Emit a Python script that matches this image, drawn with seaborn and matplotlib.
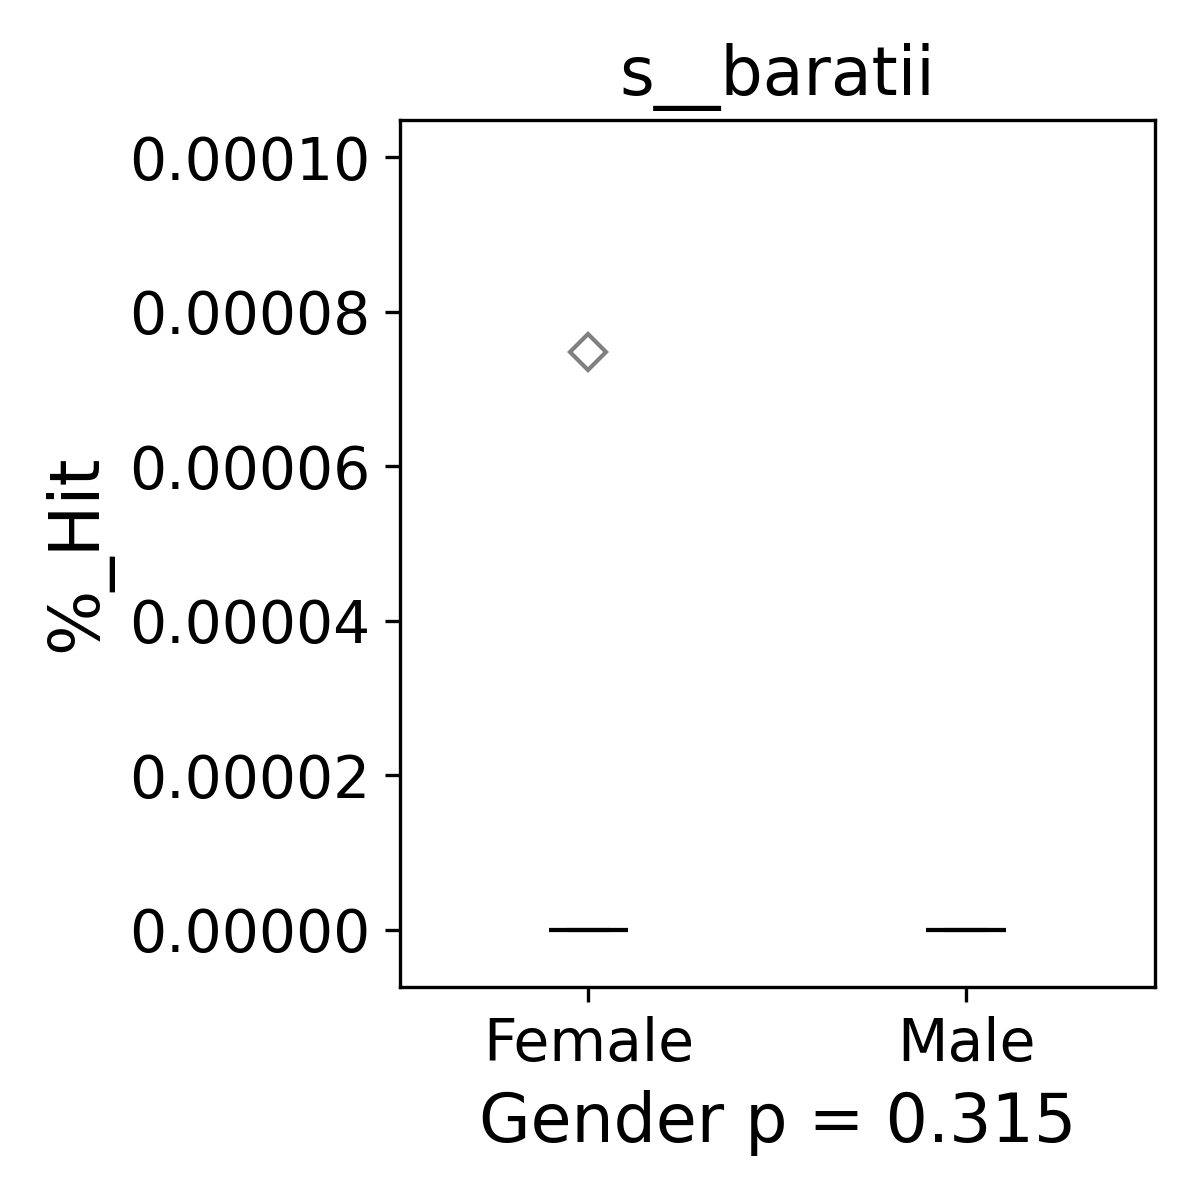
import numpy as np
import pandas as pd
import matplotlib
matplotlib.use("Agg")
import matplotlib.pyplot as plt
import seaborn as sns

# Werte pro Gruppe (fast alles 0, ein Ausreisser bei Female)
female_hits = [0.0, 0.0, 0.0, 0.0, 0.0, 0.0, 0.0, 0.0, 0.0, 0.0, 0.0000748]
male_hits = [0.0, 0.0, 0.0, 0.0, 0.0, 0.0, 0.0, 0.0, 0.0, 0.0]
groups = ["Female", "Male"]
p_value = 0.315
taxon = "s__baratii"

df = pd.DataFrame({
    "Gender": ["Female"] * len(female_hits) + ["Male"] * len(male_hits),
    "%_Hit": female_hits + male_hits,
})

fig, ax = plt.subplots(figsize=(4, 4), dpi=300)
sns.boxplot(data=df, x="Gender", y="%_Hit", order=groups, width=0.21,
            color="white", linecolor="gray", linewidth=1,
            medianprops={"color": "black"},
            flierprops={"marker": "D", "markersize": 6,
                        "markeredgecolor": "gray", "markerfacecolor": "none"},
            ax=ax)

ax.set_ylim(-0.0000074, 0.0001048)
ax.set_yticks([0, 0.00002, 0.00004, 0.00006, 0.00008, 0.0001])
ax.set_yticklabels(["0.00000", "0.00002", "0.00004", "0.00006", "0.00008", "0.00010"])
ax.tick_params(labelsize=14)
ax.set_title(taxon, fontsize=16)
ax.set_xlabel(f"Gender p = {p_value}", fontsize=16)
ax.set_ylabel("%_Hit", fontsize=16.5)

fig.subplots_adjust(left=0.333, right=0.9625, top=0.9, bottom=0.1775)
fig.savefig("out.png", dpi=300)
